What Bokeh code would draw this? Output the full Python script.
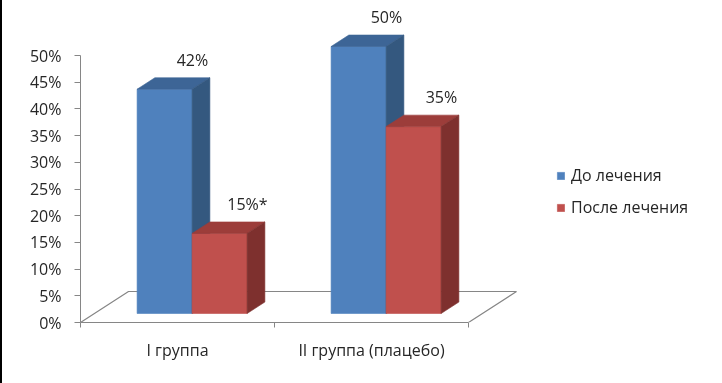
from bokeh.plotting import figure
from bokeh.models import (Range1d, FixedTicker, LinearAxis, Legend, LegendItem,
                          PrintfTickFormatter, CustomJSTickFormatter)
from bokeh.core.properties import value
from bokeh.embed import file_html
from bokeh.resources import INLINE

# ---------------- data ----------------
categories = ["I группа", "II группа (плацебо)"]
series = ["До лечения", "После лечения"]
before = [42, 50]
after = [15, 35]
before_labels = ["42%", "50%"]
after_labels = ["15%*", "35%"]
y_ticks = [0, 5, 10, 15, 20, 25, 30, 35, 40, 45, 50]

# ---------------- styling / geometry ----------------
W, H = 722, 383
BORDER = 2
FRAME_LEFT, FRAME_BOTTOM = 80, 322          # pixel position of the axes corner
SX = 194.0                                  # px per category
SY = 267.0 / 50                             # px per percent
FLOOR_DX = 48 / SX                          # floor depth offset (data units)
FLOOR_DY = 31 / SY
D0, D1 = 0.29, 0.66                         # bar depth (fraction of floor depth)
LABEL_D = 0.87                              # depth used to place value labels
GAP = 0.22                                  # gap before first bar in a category
BW = 55 / SX                                # bar width (category units)
FONT = "Open Sans"
FS = "16px"
TXT = "#262626"
AXIS_C = "#868686"

colors = {
    "front": ["#4F81BD", "#C0504D"],
    "top":   ["#3D6596", "#9C3D3A"],
    "side":  ["#34587F", "#7E302E"],
}

def proj(x, y, d):
    return x + FLOOR_DX * d, y + FLOOR_DY * d

p = figure(width=W - BORDER, height=H, output_backend="svg", toolbar_location=None,
           x_range=Range1d(0, (W - FRAME_LEFT) / SX),
           y_range=Range1d(0, FRAME_BOTTOM / SY),
           min_border_left=FRAME_LEFT - BORDER, min_border_right=0,
           min_border_top=0, min_border_bottom=H - FRAME_BOTTOM,
           background_fill_color="white", border_fill_color="white",
           outline_line_color=None)
p.styles = {"position": "fixed", "left": "0px", "top": "0px",
            "border-left": f"{BORDER}px solid black"}
p.grid.visible = False

# ---------------- floor ----------------
fx, fy = [], []
for (x, d) in [(0, 0), (0, 1), (len(categories), 1), (len(categories), 0)]:
    a, b = proj(x, 0, d)
    fx.append(a); fy.append(b)
p.line(fx, fy, line_color=AXIS_C, line_width=1.2)

# ---------------- bars ----------------
legend_items = []
for s, vals in enumerate([before, after]):
    faces = {"front": ([], []), "top": ([], []), "side": ([], [])}
    for i, v in enumerate(vals):
        x0 = i + GAP + s * BW
        x1 = x0 + BW
        quads = {
            "front": [(x0, 0, D0), (x1, 0, D0), (x1, v, D0), (x0, v, D0)],
            "top":   [(x0, v, D0), (x1, v, D0), (x1, v, D1), (x0, v, D1)],
            "side":  [(x1, 0, D0), (x1, 0, D1), (x1, v, D1), (x1, v, D0)],
        }
        for k, pts in quads.items():
            xs, ys = zip(*[proj(*pt) for pt in pts])
            faces[k][0].append(list(xs)); faces[k][1].append(list(ys))
    for k in ["front", "top", "side"]:
        c = colors[k][s]
        r = p.patches(faces[k][0], faces[k][1], fill_color=c, line_color=c, line_width=0.6)
        if k == "front":
            legend_items.append(LegendItem(label=series[s], renderers=[r]))

# ---------------- value labels ----------------
lx, ly, lt = [], [], []
for s, (vals, labs) in enumerate([(before, before_labels), (after, after_labels)]):
    for i, v in enumerate(vals):
        xc = i + GAP + s * BW + BW / 2
        a, _ = proj(xc, v, LABEL_D)
        _, b = proj(xc, v, D1)
        lx.append(a); ly.append(b + 18 / SY); lt.append(labs[i])
p.text(x=lx, y=ly, text=lt, text_align="center", text_baseline="middle",
       text_font=value(FONT), text_font_size=FS, text_color=TXT)

# ---------------- axes ----------------
ya = p.yaxis[0]
ya.ticker = FixedTicker(ticks=y_ticks, minor_ticks=[])
ya.formatter = PrintfTickFormatter(format="%d%%")
ya.bounds = (0, 50)
ya.axis_line_color = AXIS_C
ya.major_tick_line_color = AXIS_C
ya.major_tick_out = 6
ya.major_tick_in = 0
ya.minor_tick_line_color = None
ya.major_label_standoff = 13
ya.major_label_text_font = FONT
ya.major_label_text_font_size = FS
ya.major_label_text_color = TXT

xa = p.xaxis[0]
xa.ticker = FixedTicker(ticks=list(range(len(categories) + 1)), minor_ticks=[])
xa.formatter = CustomJSTickFormatter(code="return ''")
xa.bounds = (0, len(categories))
xa.axis_line_color = AXIS_C
xa.axis_line_width = 1.2
xa.major_tick_line_color = AXIS_C
xa.major_tick_out = 5
xa.major_tick_in = 0
xa.minor_tick_line_color = None
xa.major_label_standoff = 0
xa.major_label_text_font_size = "1px"

cat_ticks = [i + 0.5 for i in range(len(categories))]
xl = LinearAxis(ticker=FixedTicker(ticks=cat_ticks, minor_ticks=[]),
                major_label_overrides={t: c for t, c in zip(cat_ticks, categories)},
                axis_line_color=None, major_tick_line_color=None, minor_tick_line_color=None,
                major_label_standoff=5, major_label_text_font=FONT,
                major_label_text_font_size=FS, major_label_text_color=TXT)
p.add_layout(xl, "below")

# ---------------- legend ----------------
legend = Legend(items=legend_items, location=(556 - FRAME_LEFT, FRAME_BOTTOM - 218),
                orientation="vertical", padding=0, margin=0, spacing=10,
                glyph_width=9, glyph_height=9, label_height=20, label_standoff=6,
                label_text_font=FONT, label_text_font_size=FS, label_text_color=TXT,
                border_line_color=None, background_fill_alpha=0)
p.add_layout(legend, "center")

open("out.html", "w").write(file_html(p, INLINE))
